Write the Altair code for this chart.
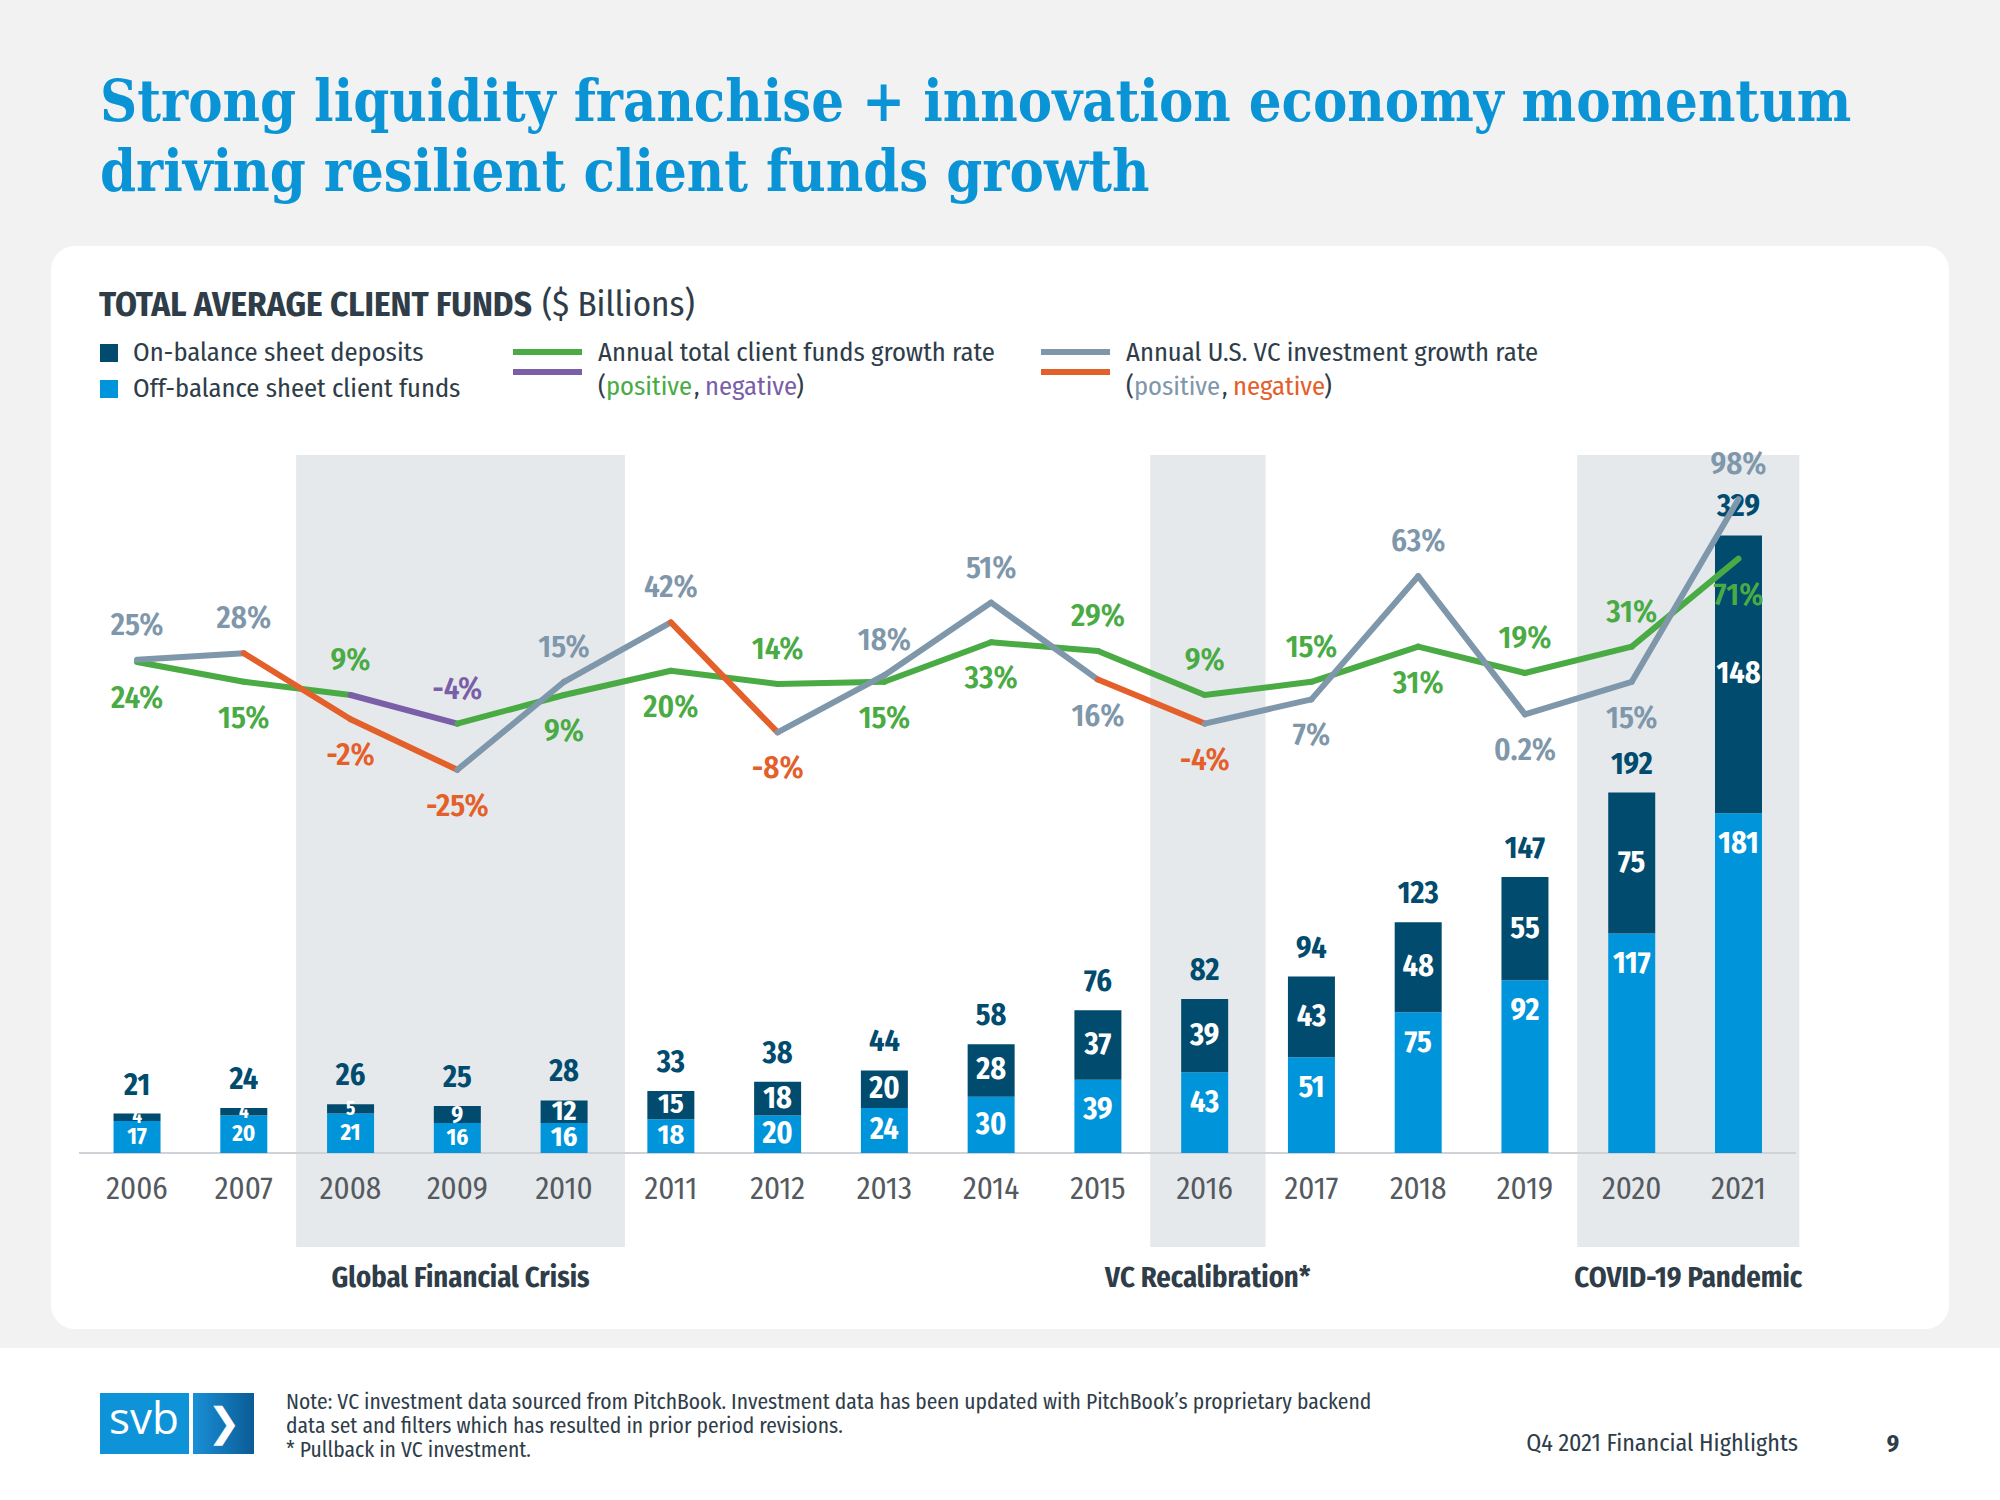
import altair as alt
import pandas as pd

# ---------------- data ----------------
years = list(range(2006, 2022))
off_balance = [17, 20, 21, 16, 16, 18, 20, 24, 30, 39, 43, 51, 75, 92, 117, 181]
on_balance = [4, 4, 5, 9, 12, 15, 18, 20, 28, 37, 39, 43, 48, 55, 75, 148]
totals = [21, 24, 26, 25, 28, 33, 38, 44, 58, 76, 82, 94, 123, 147, 192, 329]
client_growth = [24, 15, 9, -4, 9, 20, 14, 15, 33, 29, 9, 15, 31, 19, 31, 71]
vc_growth = [25, 28, -2, -25, 15, 42, -8, 18, 51, 16, -4, 7, 63, 0.2, 15, 98]
band_start = [2008, 2016, 2020]
band_end = [2010, 2016, 2021]
band_names = ["Global Financial Crisis", "VC Recalibration*", "COVID-19 Pandemic"]

title_lines = ["Strong liquidity franchise + innovation economy momentum",
               "driving resilient client funds growth"]
note_lines = ["Note: VC investment data sourced from PitchBook.  Investment data has been updated with PitchBook\u2019s proprietary backend",
              "data set and filters which has resulted in prior period revisions.",
              "* Pullback in VC investment."]

# ---------------- style ----------------
W, H = 2000, 1500
BG = "#f2f2f2"
TITLE_BLUE = "#0a94d6"
DARK = "#004b6e"
LIGHT = "#0095da"
GREEN = "#4aab45"
PURPLE = "#7a5fa8"
GRAY = "#7f97aa"
ORANGE = "#e4602a"
BAND = "#e5e9ec"
TEXT = "#2f3d49"
SANS = "Fira Sans Condensed"
SERIF = "DejaVu Serif Condensed"

X0, XSTEP = 132.7, 107.3          # pixel centre of 2006, pixels per year
BASE, KBAR = 1153.0, 1.877        # bar baseline pixel, pixels per $B
LTOP, KLINE = 714.8, 2.2          # growth-rate 0% pixel, pixels per %

xs = alt.Scale(domain=[2006 - X0 / XSTEP, 2006 + (W - X0) / XSTEP], nice=False, zero=False)
ys_bar = alt.Scale(domain=[-(H - BASE) / KBAR, BASE / KBAR], nice=False, zero=False)
ys_line = alt.Scale(domain=[(LTOP - H) / KLINE, LTOP / KLINE], nice=False, zero=False)

one = pd.DataFrame({"a": [0]})


def deco_text(txt, x, y, size, color=TEXT, weight="normal", font=SANS, align="left", baseline="middle"):
    return alt.Chart(one).mark_text(text=txt, font=font, fontSize=size, fontWeight=weight, color=color,
                                    align=align, baseline=baseline).encode(x=alt.value(x), y=alt.value(y))


def deco_rect(x, x2, y, y2, color, radius=0):
    return alt.Chart(one).mark_rect(color=color, cornerRadius=radius).encode(
        x=alt.value(x), x2=alt.value(x2), y=alt.value(y), y2=alt.value(y2))


def deco_rule(x, x2, y, color, width):
    return alt.Chart(one).mark_rule(color=color, strokeWidth=width).encode(
        x=alt.value(x), x2=alt.value(x2), y=alt.value(y))


# ---------------- tables built from the arrays ----------------
bars_long = pd.DataFrame(
    [{"year": y, "seg": "off", "lo": 0, "hi": o} for y, o in zip(years, off_balance)] +
    [{"year": y, "seg": "on", "lo": o, "hi": t} for y, o, t in zip(years, off_balance, totals)]
)
bars_wide = pd.DataFrame({"year": years, "off": off_balance, "on": on_balance, "total": totals})

seg_rows = []
for name, vals, pos_c, neg_c in [("cf", client_growth, "cf_pos", "cf_neg"), ("vc", vc_growth, "vc_pos", "vc_neg")]:
    for i in range(1, len(years)):
        cat = neg_c if vals[i] < 0 else pos_c
        for j in (i - 1, i):
            seg_rows.append({"series": name, "seg": f"{name}{i}", "year": years[j], "v": vals[j], "cat": cat})
segs = pd.DataFrame(seg_rows)

lab_rows = []
for i, y in enumerate(years):
    c, v = client_growth[i], vc_growth[i]
    lab_rows.append({"year": y, "v": c, "cat": "cf_neg" if c < 0 else "cf_pos",
                     "pos": "above" if c > v else "below", "label": f"{c:g}%"})
    lab_rows.append({"year": y, "v": v, "cat": "vc_neg" if v < 0 else "vc_pos",
                     "pos": "above" if v >= c else "below", "label": f"{v:g}%"})
labs = pd.DataFrame(lab_rows)

bands = pd.DataFrame({"start": band_start, "end": band_end, "name": band_names})

cat_scale = alt.Scale(domain=["cf_pos", "cf_neg", "vc_pos", "vc_neg"], range=[GREEN, PURPLE, GRAY, ORANGE])

# ---------------- layers ----------------
layers = []

# footer white area and white rounded panel
layers.append(deco_rect(0, W, 1348, H, "white"))
layers.append(deco_rect(51, 1949, 246, 1329, "white", radius=24))

# title
layers.append(deco_text(title_lines[0], 100, 121, 57.3, TITLE_BLUE, "bold", SERIF, baseline="alphabetic"))
layers.append(deco_text(title_lines[1], 100, 191, 57.3, TITLE_BLUE, "bold", SERIF, baseline="alphabetic"))

# chart subtitle
layers.append(deco_text("TOTAL AVERAGE CLIENT FUNDS", 99, 305, 35, TEXT, "bold"))
layers.append(deco_text("($ Billions)", 542, 305, 35, TEXT))

# legend
LS = 26.5
layers.append(deco_rect(100, 118, 344, 362, DARK))
layers.append(deco_rect(100, 118, 380, 398, LIGHT))
layers.append(deco_text("On-balance sheet deposits", 133, 353, LS))
layers.append(deco_text("Off-balance sheet client funds", 133, 389, LS))
layers.append(deco_rule(513, 582, 352, GREEN, 6))
layers.append(deco_rule(513, 582, 372, PURPLE, 6))
layers.append(deco_text("Annual total client funds growth rate", 598, 353, LS))
layers.append(deco_rule(1041, 1110, 352, GRAY, 6))
layers.append(deco_rule(1041, 1110, 372, ORANGE, 6))
layers.append(deco_text("Annual U.S. VC investment growth rate", 1126, 353, LS))
for x0, pc, nc in [(598, GREEN, PURPLE), (1126, GRAY, ORANGE)]:
    layers.append(deco_text("(", x0, 387, LS))
    layers.append(deco_text("positive", x0 + 8, 387, LS, pc))
    layers.append(deco_text(",", x0 + 96, 387, LS))
    layers.append(deco_text("negative", x0 + 107, 387, LS, nc))
    layers.append(deco_text(")", x0 + 198, 387, LS))

# shaded periods
band_layer = alt.Chart(bands).transform_calculate(
    x0="datum.start - 0.51", x1="datum.end + 0.57", xm="(datum.start + datum.end + 0.06) / 2"
)
layers.append(band_layer.mark_rect(color=BAND).encode(
    x=alt.X("x0:Q", scale=xs, axis=None), x2="x1:Q", y=alt.value(455), y2=alt.value(1247)))
layers.append(band_layer.mark_text(font=SANS, fontSize=28.5, fontWeight="bold", color=TEXT, baseline="middle").encode(
    x=alt.X("xm:Q", scale=xs, axis=None), y=alt.value(1278), text="name:N"))

# axis base line
layers.append(alt.Chart(one).mark_rule(color="#cfd3d7", strokeWidth=2).encode(
    x=alt.value(79), x2=alt.value(1796), y=alt.YDatum(0, scale=ys_bar, axis=None)))

# stacked bars
layers.append(alt.Chart(bars_long).mark_bar(width=47).encode(
    x=alt.X("year:Q", scale=xs, axis=None),
    y=alt.Y("lo:Q", scale=ys_bar, axis=None), y2="hi:Q",
    color=alt.Color("seg:N", scale=alt.Scale(domain=["off", "on"], range=[LIGHT, DARK]), legend=None)))

# year labels
layers.append(alt.Chart(bars_wide).mark_text(font=SANS, fontSize=31, color="#555a60", baseline="middle").encode(
    x=alt.X("year:Q", scale=xs, axis=None), y=alt.value(1190), text="year:N"))

# totals above bars
layers.append(alt.Chart(bars_wide).mark_text(font=SANS, fontSize=30, fontWeight="bold", color=DARK,
                                             baseline="middle", dy=-28).encode(
    x=alt.X("year:Q", scale=xs, axis=None), y=alt.Y("total:Q", scale=ys_bar, axis=None), text="total:N"))

# white segment labels
seg_lab = alt.Chart(bars_wide).transform_calculate(
    off_pos="max(datum.off - 16.3, datum.off / 2)",
    on_pos="(datum.off + datum.total) / 2",
    off_size="datum.year <= 2009 ? 23 : (datum.year <= 2011 ? 28 : 30)",
    on_size="datum.on < 8 ? 19 : (datum.year <= 2009 ? 23 : (datum.year <= 2011 ? 28 : 30))",
)
layers.append(seg_lab.mark_text(font=SANS, fontWeight="bold", color="white", baseline="middle").encode(
    x=alt.X("year:Q", scale=xs, axis=None), y=alt.Y("off_pos:Q", scale=ys_bar, axis=None),
    text="off:N", size=alt.Size("off_size:Q", scale=None)))
layers.append(seg_lab.mark_text(font=SANS, fontWeight="bold", color="white", baseline="middle").encode(
    x=alt.X("year:Q", scale=xs, axis=None), y=alt.Y("on_pos:Q", scale=ys_bar, axis=None),
    text="on:N", size=alt.Size("on_size:Q", scale=None)))

# growth-rate lines, coloured by sign
for s in ["cf", "vc"]:
    layers.append(alt.Chart(segs[segs["series"] == s]).mark_line(strokeWidth=6, strokeCap="round", strokeJoin="round").encode(
        x=alt.X("year:Q", scale=xs, axis=None),
        y=alt.Y("v:Q", scale=ys_line, axis=None),
        color=alt.Color("cat:N", scale=cat_scale, legend=None),
        detail="seg:N", order="year:Q"))

# growth-rate labels
for pos, dy in [("above", -34), ("below", 37)]:
    layers.append(alt.Chart(labs[labs["pos"] == pos]).mark_text(
        font=SANS, fontSize=31, fontWeight=600, baseline="middle", dy=dy).encode(
        x=alt.X("year:Q", scale=xs, axis=None),
        y=alt.Y("v:Q", scale=ys_line, axis=None),
        color=alt.Color("cat:N", scale=cat_scale, legend=None),
        text="label:N"))

# footer: logo, notes, page info
layers.append(deco_rect(100, 189, 1393, 1454, "#0f93d8"))
grad = alt.LinearGradient(gradient="linear", x1=0, x2=1, y1=0, y2=0,
                          stops=[alt.GradientStop(color="#1a8fd6", offset=0),
                                 alt.GradientStop(color="#0b5c96", offset=1)])
layers.append(alt.Chart(one).mark_rect(color=grad).encode(
    x=alt.value(193), x2=alt.value(254), y=alt.value(1393), y2=alt.value(1454)))
layers.append(deco_text("svb", 144, 1421, 44, "white", "normal", "Open Sans", align="center"))
layers.append(deco_text("\u276f", 224, 1424, 40, "white", "bold", "DejaVu Sans", align="center"))
for i, t in enumerate(note_lines):
    layers.append(deco_text(t, 286, 1403 + 24 * i, 21.5, TEXT))
layers.append(deco_text("Q4 2021 Financial Highlights", 1798, 1444, 24, TEXT, align="right"))
layers.append(deco_text("9", 1893, 1444, 24, TEXT, "bold", align="center"))

chart = alt.layer(*layers).resolve_scale(y="independent", color="independent").properties(
    width=W, height=H, background=BG, padding=0, autosize=alt.AutoSizeParams(type="none")
).configure_view(stroke=None)

chart.save("out.html", embed_options={"renderer": "svg", "actions": False})
